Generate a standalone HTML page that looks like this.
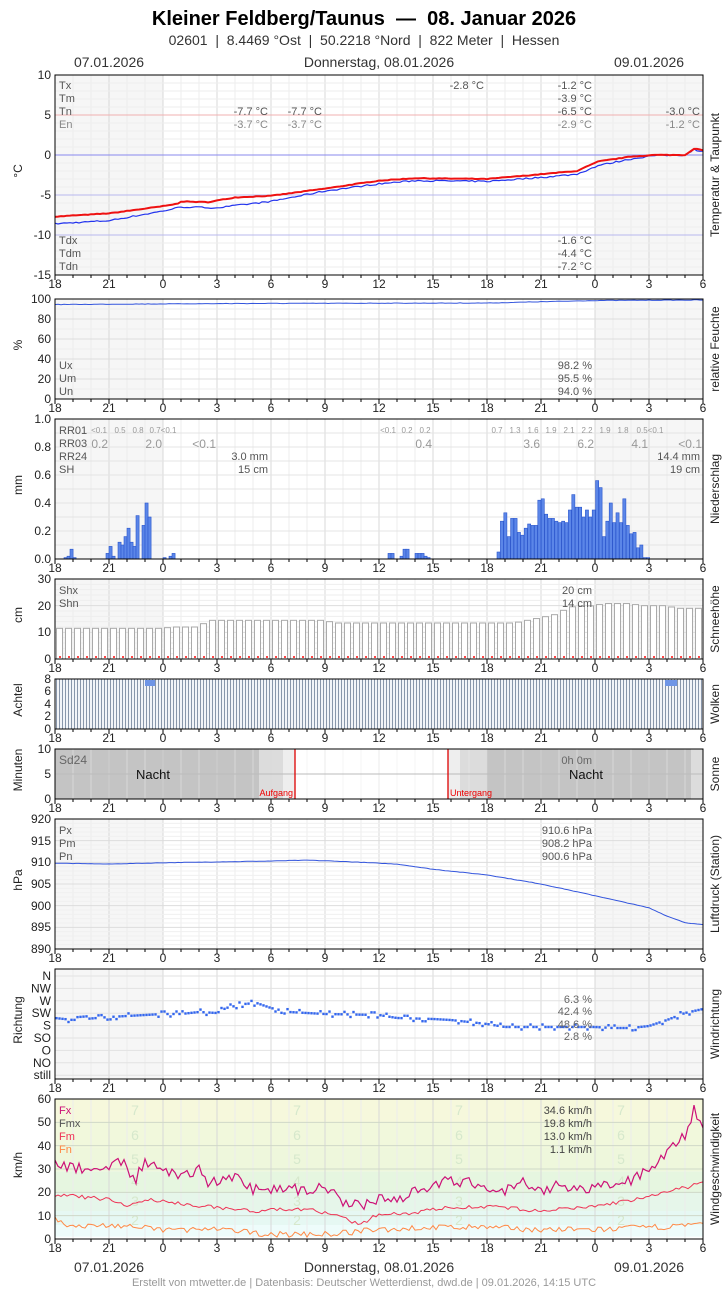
<!DOCTYPE html>
<html><head><meta charset="utf-8"><style>
body{margin:0;background:#fff;}
svg{display:block;font-family:"Liberation Sans",sans-serif;}
.pre{white-space:pre;}
</style></head><body>
<svg id="s" width="728" height="1290" xmlns="http://www.w3.org/2000/svg">
<text class="pre" x="364" y="25" text-anchor="middle" font-size="20" font-weight="bold" fill="#000">Kleiner Feldberg/Taunus  —  08. Januar 2026</text>
<text class="pre" x="364" y="45" text-anchor="middle" font-size="14" fill="#333">02601  |  8.4469 °Ost  |  50.2218 °Nord  |  822 Meter  |  Hessen</text>
<text x="109" y="67" text-anchor="middle" font-size="14" fill="#333">07.01.2026</text>
<text x="379" y="67" text-anchor="middle" font-size="14" fill="#333">Donnerstag, 08.01.2026</text>
<text x="649" y="67" text-anchor="middle" font-size="14" fill="#333">09.01.2026</text>
<text x="109" y="1272" text-anchor="middle" font-size="14" fill="#333">07.01.2026</text>
<text x="379" y="1272" text-anchor="middle" font-size="14" fill="#333">Donnerstag, 08.01.2026</text>
<text x="649" y="1272" text-anchor="middle" font-size="14" fill="#333">09.01.2026</text>
<text x="364" y="1286" text-anchor="middle" font-size="11" fill="#999">Erstellt von mtwetter.de | Datenbasis: Deutscher Wetterdienst, dwd.de | 09.01.2026, 14:15 UTC</text>
</svg>
<script>
var S=document.getElementById('s'),NS='http://www.w3.org/2000/svg';
function el(t,a,txt){var e=document.createElementNS(NS,t);for(var k in a)e.setAttribute(k,a[k]);if(txt!==undefined)e.textContent=txt;S.appendChild(e);return e;}
var X0=55,X1=703;function X(h){return X0+h*18;}
var seed=7;function rnd(){seed=(seed*16807)%2147483647;return seed/2147483647;}
function pw(k,h){for(var i=1;i<k.length;i++){if(h<=k[i][0]){var a=k[i-1],b=k[i];return a[1]+(b[1]-a[1])*(h-a[0])/(b[0]-a[0]);}}return k[k.length-1][1];}
var hrs=['18','21','0','3','6','9','12','15','18','21','0','3','6'];
function panel(top,bot,opts){
 el('rect',{x:X0,y:top,width:648,height:bot-top,fill:'#fff'});
 if(!opts.nogrey){el('rect',{x:X0,y:top,width:108,height:bot-top,fill:'#f6f6f6'});el('rect',{x:595,y:top,width:108,height:bot-top,fill:'#f6f6f6'});}
 if(opts.bg)opts.bg();
 for(var h=0;h<=36;h++){el('line',{x1:X(h),x2:X(h),y1:top,y2:bot,stroke:h%3?'#ececec':'#d8d8d8','stroke-width':1,'stroke-opacity':opts.ga||1});}
 (opts.hl||[]).forEach(function(y){el('line',{x1:X0,x2:X1,y1:y[0],y2:y[0],stroke:y[1]||'#e4e4e4','stroke-width':1});});
 if(opts.draw)opts.draw();
 el('rect',{x:X0,y:top,width:648,height:bot-top,fill:'none',stroke:'#000','stroke-width':1});
 for(var h=0;h<=36;h++){el('line',{x1:X(h),x2:X(h),y1:bot,y2:bot+(h%3?3:5),stroke:'#000'});}
 hrs.forEach(function(t,i){el('text',{x:X(i*3),y:bot+13,'text-anchor':'middle','font-size':12,fill:'#222'},t);});
 (opts.yl||[]).forEach(function(l){el('text',{x:51,y:l[1]+4,'text-anchor':'end','font-size':12,fill:'#222'},l[0]);});
 var my=(top+bot)/2;
 el('text',{x:26,y:my,'text-anchor':'middle','font-size':12,fill:'#222',transform:'rotate(-90 22 '+my+')'},opts.yt);
 el('text',{x:719,y:my,'text-anchor':'middle','font-size':12,fill:'#222',transform:'rotate(-90 719 '+my+')'},opts.rt);
}
function txt(x,y,t,anc,col,fs){el('text',{x:x,y:y,'text-anchor':anc||'start','font-size':fs||11,fill:col||'#555'},t);}
function line(pts,col,w){el('polyline',{points:pts.map(function(p){return p[0].toFixed(1)+','+p[1].toFixed(1)}).join(' '),fill:'none',stroke:col,'stroke-width':w||1});}

// 1 Temperature
(function(){var T=75,B=275;function Y(v){return 155-v*8;}
var hl=[];for(var v=9;v>=-14;v--)hl.push([Y(v),v%5?'#eeeeee':(v==0?'#8888ee':(v>0?'#f0b0b0':'#b8b8ee'))]);
var rk=[[0,-7.7],[3,-7.3],[6,-6.4],[6.8,-6.1],[7,-5.8],[8.5,-5.9],[10,-5.3],[12,-5.1],[15,-4.2],[18,-3.2],[20,-2.9],[24,-3.0],[27,-2.4],[29,-2.0],[30.2,-0.8],[32,-0.2],[33.3,0],[35,0],[35.5,0.8],[36,0.6]];
var bk=[[0,-8.6],[3,-8.2],[6,-7.0],[7,-6.5],[9,-6.6],[12,-5.8],[15,-4.5],[18,-3.6],[20,-3.2],[24,-3.3],[27,-2.8],[29,-2.4],[30.2,-1.3],[32,-0.5],[33.3,-0.05],[35,0],[35.5,0.7],[36,0.4]];
panel(T,B,{hl:hl,yt:'°C',rt:'Temperatur & Taupunkt',yl:[['10',75],['5',115],['0',155],['-5',195],['-10',235],['-15',275]],draw:function(){
 var r=[],b=[];for(var i=0;i<=216;i++){var h=i/6;r.push([X(h),Y(pw(rk,h)+(rnd()-.5)*0.08)]);b.push([X(h),Y(pw(bk,h)+(rnd()-.5)*0.18)]);}
 line(b,'#2233ee',1.2);line(r,'#ee1111',2);
 txt(59,89,'Tx');txt(59,102,'Tm');txt(59,115,'Tn');txt(59,128,'En','start','#888');
 txt(268,115,'-7.7 °C','end');txt(322,115,'-7.7 °C','end');txt(268,128,'-3.7 °C','end','#888');txt(322,128,'-3.7 °C','end','#888');
 txt(484,89,'-2.8 °C','end');txt(592,89,'-1.2 °C','end');txt(592,102,'-3.9 °C','end');txt(592,115,'-6.5 °C','end');txt(592,128,'-2.9 °C','end','#888');
 txt(700,115,'-3.0 °C','end');txt(700,128,'-1.2 °C','end','#888');
 txt(59,244,'Tdx');txt(59,257,'Tdm');txt(59,270,'Tdn');txt(592,244,'-1.6 °C','end');txt(592,257,'-4.4 °C','end');txt(592,270,'-7.2 °C','end');
}});})();

// 2 Humidity
(function(){var T=299,B=399;var hl=[];for(var v=90;v>0;v-=10)hl.push([B-v,v%20?'#eeeeee':'#dddddd']);
panel(T,B,{hl:hl,yt:'%',rt:'relative Feuchte',yl:[['100',299],['80',319],['60',339],['40',359],['20',379],['0',399]],draw:function(){
 var p=[];for(var i=0;i<=216;i++){var h=i/6;p.push([X(h),B-pw([[0,94.5],[10,95.5],[24,96],[30,98.5],[36,99]],h)+(rnd()-.5)*0.5]);}line(p,'#3355dd',1);
 txt(59,369,'Ux');txt(59,382,'Um');txt(59,395,'Un');txt(592,369,'98.2 %','end');txt(592,382,'95.5 %','end');txt(592,395,'94.0 %','end');
}});})();

// 3 Precip
(function(){var T=419,B=559;function Y(v){return B-v*140;}var hl=[];for(var v=.1;v<1;v+=.1)hl.push([Y(v),'#e4e4e4']);
var bars=[[64,.01],[67,.02],[70,.07],[73,.01],[106,.04],[109,.09],[112,.02],[118,.12],[121,.1],[124,.16],[127,.22],[130,.12],[133,.09],[136,.31],[142,.24],[145,.4],[148,.3],[163,.01],[169,.02],[172,.04],[388,.04],[391,.04],[400,.02],[403,.07],[406,.07],[415,.04],[418,.04],[421,.04],[424,.02],[427,.01]];
var big=[.05,.27,.33,.16,.29,.29,.19,.17,.22,.25,.24,.24,.42,.43,.32,.29,.29,.27,.26,.27,.26,.35,.46,.37,.37,.30,.35,.30,.35,.56,.51,.16,.27,.40,.26,.33,.26,.43,.24,.18,.19,.08,.10,.01,.01];
big.forEach(function(v,i){bars.push([497+i*153/45,v]);});
panel(T,B,{hl:hl,yt:'mm',rt:'Niederschlag',yl:[['1.0',419],['0.8',447],['0.6',475],['0.4',503],['0.2',531],['0.0',559]],draw:function(){
 bars.forEach(function(b){el('rect',{x:b[0],y:Y(b[1]),width:3.1,height:b[1]*140,fill:'#5b86e8',stroke:'#2a55cc','stroke-width':.6});});
 txt(59,434,'RR01');txt(59,447,'RR03');txt(59,460,'RR24');txt(59,473,'SH');
 var sm=[[99,'<0.1'],[120,'0.5'],[138,'0.8'],[163,'0.7<0.1'],[388,'<0.1'],[407,'0.2'],[425,'0.2'],[497,'0.7'],[515,'1.3'],[533,'1.6'],[551,'1.9'],[569,'2.1'],[587,'2.2'],[605,'1.9'],[623,'1.8'],[650,'0.5<0.1']];
 sm.forEach(function(s){txt(s[0],433,s[1],'middle','#999',8);});
 [[108,'0.2'],[162,'2.0'],[216,'<0.1'],[432,'0.4'],[540,'3.6'],[594,'6.2'],[648,'4.1'],[702,'<0.1']].forEach(function(s){txt(s[0],448,s[1],'end','#999',12);});
 txt(268,460,'3.0 mm','end');txt(268,473,'15 cm','end');txt(700,460,'14.4 mm','end');txt(700,473,'19 cm','end');
}});})();

// 4 Snow
(function(){var T=579,B=659;function Y(v){return B-v*80/30;}var hl=[];for(var v=2;v<30;v+=2)hl.push([Y(v),v%10?'#eeeeee':'#dddddd']);
var sk=[[0,11.5],[6,11.5],[6.5,12],[8,12],[8.5,14.5],[15,14.5],[15.5,13.5],[25.5,13.5],[27,15.5],[28,17],[28.5,19.5],[30,20],[30.5,20.8],[32,20.8],[32.5,20],[34,20],[34.5,19],[36,19]];
panel(T,B,{hl:hl,yt:'cm',rt:'Schneehöhe',yl:[['30',579],['20',606],['10',632],['0',659]],draw:function(){
 for(var i=0;i<72;i++){var h=(i+0.5)/2,v=pw(sk,h);el('rect',{x:X(i/2)+1.5,y:Y(v),width:6,height:v*80/30,fill:'#fff',stroke:'#aaa','stroke-width':1});
 el('rect',{x:X(i/2)+4,y:656,width:2,height:2,fill:'#f44'});}
 txt(59,594,'Shx');txt(59,607,'Shn');txt(592,594,'20 cm','end');txt(592,607,'14 cm','end');
}});})();

// 5 Clouds
(function(){var T=679,B=729;
panel(T,B,{nogrey:true,yt:'Achtel',rt:'Wolken',yl:[['8',679],['6',691],['4',704],['2',716],['0',729]],draw:function(){
 el('rect',{x:X0,y:T,width:648,height:50,fill:'#f2f4f8'});
 for(var x=X0+1.5;x<X1;x+=3)el('line',{x1:x,x2:x,y1:T,y2:B,stroke:'#8896aa','stroke-width':1});
 el('rect',{x:145,y:680,width:10,height:6,fill:'#6f95e6'});el('rect',{x:665,y:680,width:12,height:6,fill:'#6f95e6'});
}});})();

// 6 Sun
(function(){var T=749,B=799;
panel(T,B,{nogrey:true,ga:0.5,hl:[[774,'#bbb']],yt:'Minuten',rt:'Sonne',yl:[['10',749],['5',774],['0',799]],bg:function(){
 el('rect',{x:55,y:T,width:204,height:50,fill:'#c4c4c4'});el('rect',{x:259,y:T,width:24,height:50,fill:'#dcdcdc'});el('rect',{x:283,y:T,width:12,height:50,fill:'#eeeeee'});
 el('rect',{x:448,y:T,width:12,height:50,fill:'#eeeeee'});el('rect',{x:460,y:T,width:27,height:50,fill:'#dcdcdc'});el('rect',{x:487,y:T,width:204,height:50,fill:'#c4c4c4'});el('rect',{x:691,y:T,width:12,height:50,fill:'#dcdcdc'});
},draw:function(){
 el('line',{x1:295,x2:295,y1:T,y2:B,stroke:'#dd0000','stroke-width':1.3});el('line',{x1:448,x2:448,y1:T,y2:B,stroke:'#dd0000','stroke-width':1.3});
 txt(59,764,'Sd24','start','#666',12);txt(153,779,'Nacht','middle','#111',13);txt(586,779,'Nacht','middle','#111',13);
 txt(592,764,'0h 0m','end','#666',11);txt(293,796,'Aufgang','end','#e00',9);txt(450,796,'Untergang','start','#e00',9);
}});})();

// 7 Pressure
(function(){var T=819,B=949;function Y(v){return 949-(v-890)*130/30;}var hl=[];for(var v=891;v<920;v++)hl.push([Y(v),v%5?'#f0f0f0':'#dddddd']);
var pk=[[0,909.8],[3,909.6],[6,909.9],[9,910.1],[12,910.3],[14,910.5],[16,910.2],[19,909.6],[21,908.4],[24,907.1],[27,905.0],[30,902.3],[33,899.5],[34,897.6],[35,896.1],[36,895.6]];
panel(T,B,{hl:hl,yt:'hPa',rt:'Luftdruck (Station)',yl:[['920',819],['915',841],['910',862],['905',884],['900',906],['895',927],['890',949]],draw:function(){
 var p=[];for(var i=0;i<=216;i++){var h=i/6;p.push([X(h),Y(pw(pk,h)+(rnd()-.5)*0.08)]);}line(p,'#3355dd',1);
 txt(59,834,'Px');txt(59,847,'Pm');txt(59,860,'Pn');txt(592,834,'910.6 hPa','end');txt(592,847,'908.2 hPa','end');txt(592,860,'900.6 hPa','end');
}});})();

// 8 Wind direction
(function(){var lv=['N','NW','W','SW','S','SO','O','NO','still'];function LY(i){return 976+i*12.4;}
var hl=lv.map(function(l,i){return [LY(i),'#e2e2e2'];});
var dk=[[0,1018],[1,1020],[3,1017],[6,1014],[7,1014],[8,1012],[9,1013],[9.5,1008],[10.5,1004],[11.2,1003],[12,1008],[13,1012],[15,1014],[18,1015],[19,1018],[21,1019],[22,1020],[24,1024],[25,1027],[30,1027],[31,1028],[32,1028],[33,1026],[34,1020],[35,1013],[36,1009]];
panel(969,1079,{hl:hl,yt:'Richtung',rt:'Windrichtung',yl:lv.map(function(l,i){return [l,LY(i)];}),draw:function(){
 for(var i=0;i<216;i++){var h=(i+0.5)/6;var r=rnd();var y=pw(dk,h)+(r<0.15?-2.5:(r>0.85?2.5:0));el('rect',{x:X(h)-1.2,y:y-1.2,width:2.4,height:2.4,fill:'#3366ee'});}
 txt(592,1003,'6.3 %','end','#666');txt(592,1015,'42.4 %','end','#666');txt(592,1028,'48.6 %','end','#666');txt(592,1040,'2.8 %','end','#666');
}});})();

// 9 Wind speed
(function(){var T=1099,B=1239;function Y(v){return B-v*140/60;}
var hl=[];for(var v=10;v<60;v+=10)hl.push([Y(v),'#cfd8c8']);
panel(T,B,{nogrey:true,hl:hl,yt:'km/h',rt:'Windgeschwindigkeit',yl:[['60',1099],['50',1122],['40',1146],['30',1169],['20',1192],['10',1216],['0',1239]],bg:function(){
 var bands=[[0,1,'#ffffff'],[1,6,'#eefcfb'],[6,12,'#e6f8f3'],[12,20,'#e6f6ea'],[20,29,'#e6f6e0'],[29,39,'#eef7dc'],[39,50,'#f1f8dc'],[50,60,'#f6f8dc']];
 bands.forEach(function(b){el('rect',{x:X0,y:Y(b[1]),width:648,height:(b[1]-b[0])*140/60,fill:b[2]});});
 [[1217,'2'],[1198,'3'],[1178,'4'],[1156,'5'],[1132,'6'],[1107,'7']].forEach(function(d){[135,297,459,621].forEach(function(x){txt(x,d[0]+8,d[1],'middle','#d6e8cc',14);});});
},draw:function(){
 var fx=[[0,34],[1,30],[2,30],[3,31],[3.5,35],[4.5,26],[5,33],[6,29],[7,26],[8,31],[8.5,24],[10,27],[11,21],[12,22],[14,21],[15,23],[16,15],[17,14],[18,18],[19,17],[20,21],[22,25],[23,24],[24,23],[25,21],[26,24],[27,20],[28,23],[29,21],[30,22],[31,23],[32,25],[33,30],[34,38],[35,45],[35.5,55],[36,50]];
 var fm=[[0,19],[3,17],[4,14],[5,17],[6,16],[9,13.5],[11,12],[14,13],[16,9],[17,6],[18,11],[20,11],[21,13],[24,14],[27,12],[30,14],[33,18],[35,22],[36,24]];
 var fn=[[0,9],[1,5],[3,6],[6,4],[9,4],[12,2],[15,2],[18,4],[21,5],[24,5],[27,4],[30,4],[33,5],[36,6]];
 var a=[],b=[],c=[];for(var i=0;i<=216;i++){var h=i/6;
 a.push([X(h),Y(pw(fx,h)+(rnd()-.5)*5)]);b.push([X(h),Y(pw(fm,h)+(rnd()-.5)*1.6)]);c.push([X(h),Y(Math.max(0.5,pw(fn,h)+(rnd()-.5)*2.5))]);}
 line(c,'#ff8844',1);line(b,'#ee3355',1);line(a,'#cc1177',1.2);
 txt(59,1114,'Fx','start','#cc1177');txt(59,1127,'Fmx','start','#555');txt(59,1140,'Fm','start','#ee3355');txt(59,1153,'Fn','start','#ff8844');
 txt(592,1114,'34.6 km/h','end','#444');txt(592,1127,'19.8 km/h','end','#444');txt(592,1140,'13.0 km/h','end','#444');txt(592,1153,'1.1 km/h','end','#444');
}});})();
</script>
</body></html>
